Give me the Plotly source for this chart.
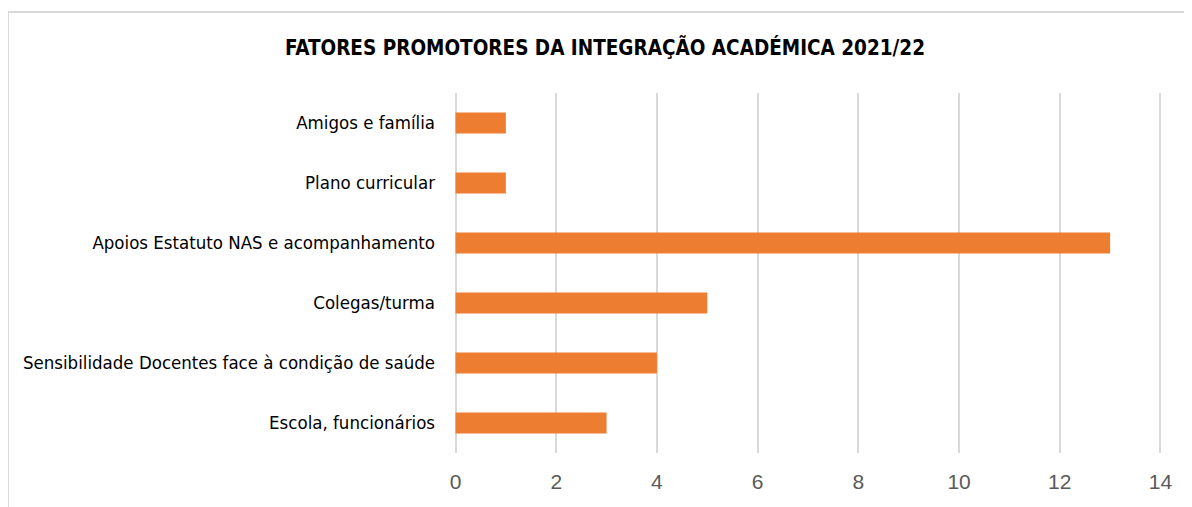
import plotly.graph_objects as go

categories = [
    "Escola, funcionários",
    "Sensibilidade Docentes face à condição de saúde",
    "Colegas/turma",
    "Apoios Estatuto NAS e acompanhamento",
    "Plano curricular",
    "Amigos e família",
]
values = [3, 4, 5, 13, 1, 1]
x_ticks = [0, 2, 4, 6, 8, 10, 12, 14]

title_text = "FATORES PROMOTORES DA INTEGRAÇÃO ACADÉMICA 2021/22"

fig = go.Figure(
    go.Bar(
        y=categories,
        x=values,
        orientation="h",
        marker=dict(color="#ED7D31", line=dict(width=0)),
        width=0.35,
    )
)

# page body has an 8px margin, so work in coordinates offset by 8
OFF = 8
W, H = 1192 - OFF, 507 - OFF
L, T = 454 - OFF, 93 - OFF
R = W - (1162 - OFF)
B = H - (453 - OFF)
PW, PH = W - L - R, H - T - B

fig.update_layout(
    width=W,
    height=H,
    margin=dict(l=L, r=R, t=T, b=B),
    paper_bgcolor="white",
    plot_bgcolor="white",
    showlegend=False,
    title=dict(
        text="<b>" + title_text + "</b>",
        x=(605 - OFF) / W,
        xanchor="center",
        y=1 - (48 - OFF) / H,
        yanchor="middle",
        font=dict(family="DejaVu Sans Condensed, sans-serif", size=20.5, color="#000000"),
    ),
    xaxis=dict(
        range=[-0.03, 14.03],
        tickvals=x_ticks,
        ticktext=[str(v) for v in x_ticks],
        showgrid=True,
        gridcolor="#D9D9D9",
        gridwidth=2,
        zeroline=True,
        zerolinecolor="#D9D9D9",
        zerolinewidth=2,
        showline=False,
        ticks="",
        ticklabelstandoff=14,
        tickfont=dict(family="Liberation Sans, Arial, sans-serif", size=21, color="#595959"),
        fixedrange=True,
        layer="below traces",
    ),
    yaxis=dict(
        categoryorder="array",
        categoryarray=categories,
        showgrid=False,
        zeroline=False,
        showline=False,
        ticks="",
        ticklabelstandoff=18,
        tickfont=dict(family="DejaVu Sans Condensed, sans-serif", size=18.5, color="#000000"),
        fixedrange=True,
    ),
    shapes=[
        dict(
            type="rect",
            xref="paper",
            yref="paper",
            x0=(8 - 454) / PW,
            x1=(1260 - 454) / PW,
            y0=(453 - 600) / PH,
            y1=(453 - 12) / PH,
            line=dict(color="#D9D9D9", width=2),
            fillcolor="rgba(0,0,0,0)",
            layer="below",
        )
    ],
)

fig.write_html("out.html")
